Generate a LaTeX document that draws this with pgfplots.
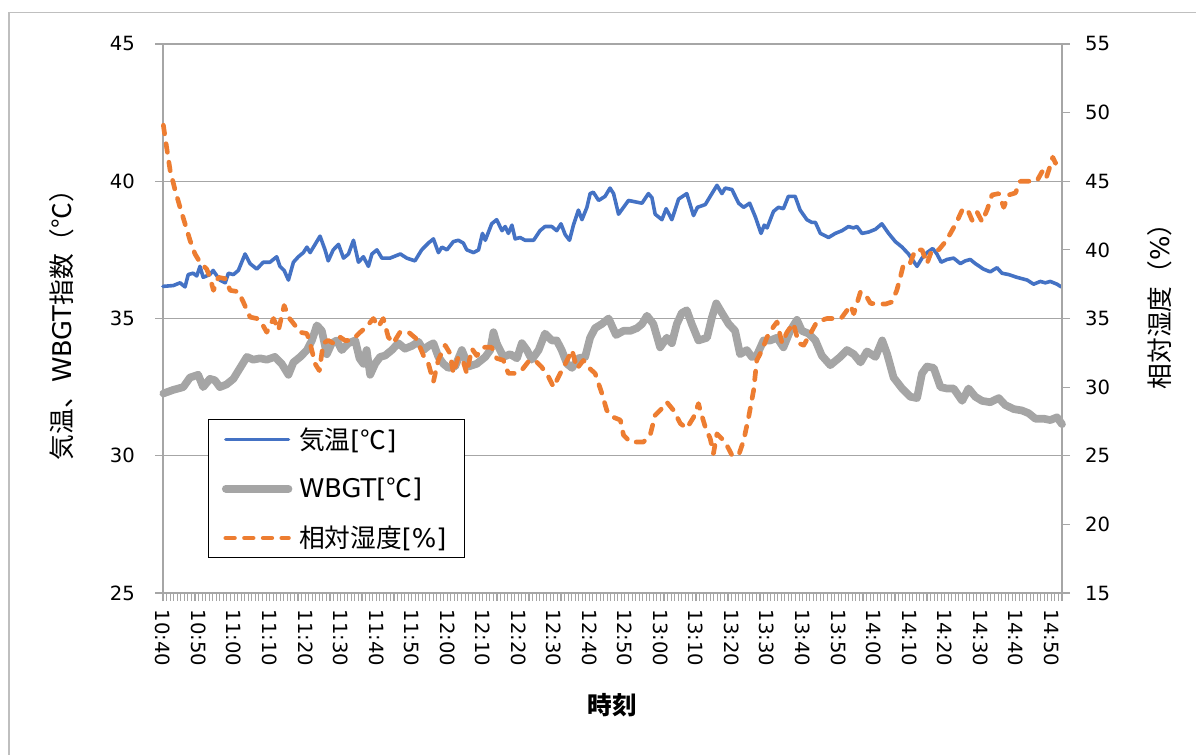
\documentclass[border=0pt]{standalone}
\usepackage{fontspec}
\setmainfont{DejaVu Sans}
\newfontfamily\cjk{Noto Sans CJK JP}
\usepackage{pgfplots}
\pgfplotsset{compat=1.18}
\definecolor{cblue}{RGB}{68,114,196}
\definecolor{cgray}{RGB}{165,165,165}
\definecolor{corange}{RGB}{237,125,49}
\definecolor{gridgray}{RGB}{166,166,166}
\definecolor{bordergray}{RGB}{191,191,191}
\tikzset{
  blueline/.style={color=cblue, line width=2.7bp, line join=round, line cap=round},
  grayline/.style={color=cgray, line width=5.8bp, line join=round, line cap=round},
  orangeline/.style={color=corange, line width=3.5bp, line join=round, line cap=round, dash pattern=on 6.5bp off 7.5bp},
}
\newcommand{\tickfont}{\fontsize{14.7bp}{17bp}\selectfont}
\newcommand{\labfont}{\fontsize{19.3bp}{22bp}\selectfont}
\newcommand{\xlabfont}{\fontsize{18.5bp}{21bp}\selectfont}
\newcommand{\legfont}{\fontsize{19.3bp}{22bp}\selectfont}
\pgfplotsset{
  common/.style={
    at={(122.25bp,121.5bp)}, anchor=south west,
    scale only axis, width=674.25bp, height=411.75bp,
    xmin=0, xmax=253, clip=false,
    axis line style={gridgray, line width=1bp, -},
    tick style={gridgray, line width=0.8bp},
    major tick length=6bp, minor tick length=6bp,
    tick align=outside,
    tick label style={font=\tickfont, black},
    /pgf/number format/assume math mode=true,
  }
}
\begin{document}
\begin{tikzpicture}
\useasboundingbox (0bp,0bp) rectangle (897bp,566.25bp);
\draw[bordergray, line width=0.8bp] (6.75bp,-5bp) -- (6.75bp,556.9bp) -- (905bp,556.9bp);
\begin{axis}[common,
  ymin=25, ymax=45,
  axis x line*=bottom, axis y line*=left,
  xtick={0,10,...,250},
  xticklabels={10:40,10:50,11:00,11:10,11:20,11:30,11:40,11:50,12:00,12:10,12:20,12:30,12:40,12:50,13:00,13:10,13:20,13:30,13:40,13:50,14:00,14:10,14:20,14:30,14:40,14:50},
  minor xtick={0,1,...,253},
  x tick label style={rotate=-90, anchor=west},
  xticklabel shift=3bp,
  ytick={25,30,...,45},
  yticklabel shift=11.6bp,
  ymajorgrids=true,
  grid style={gridgray, line width=1bp},
  xlabel={\cjk\bfseries 時刻},
  xlabel style={at={(axis description cs:0.5,-0.204)}, anchor=center, font=\xlabfont},
  ylabel={{\cjk 気温、}WBGT{\cjk 指数（℃）}},
  ylabel style={at={(axis description cs:-0.1123,0.5)}, anchor=center, font=\labfont},
]
\addplot[grayline] table {
0.1 32.27
2.9 32.4
5.7 32.5
7.6 32.85
9.9 32.95
11.3 32.5
13.2 32.8
14.6 32.75
16.0 32.5
17.9 32.6
19.8 32.8
21.7 33.2
23.6 33.6
25.4 33.5
27.3 33.55
29.2 33.5
31.5 33.6
33.4 33.35
35.3 32.95
36.7 33.4
38.6 33.6
40.5 33.85
41.9 34.2
43.3 34.75
44.7 34.55
46.1 33.7
47.5 34.1
48.9 34.2
50.3 33.85
52.2 34.1
54.1 34.2
55.3 33.55
56.4 33.35
57.3 33.85
58.3 32.95
59.7 33.35
61.1 33.6
62.5 33.65
64.4 33.85
66.2 34.1
68.1 33.9
70.0 34.0
71.9 34.15
73.3 33.85
74.7 34.0
76.1 34.1
77.5 33.6
78.9 33.35
80.3 33.2
82.2 33.25
84.1 33.85
86.0 33.25
88.3 33.35
90.7 33.6
92.1 33.85
93.0 34.5
93.9 34.1
95.8 33.6
97.7 33.7
99.6 33.55
101.0 34.1
102.4 33.85
103.8 33.5
105.7 33.85
107.5 34.45
109.4 34.2
110.8 34.2
112.2 33.85
113.7 33.35
115.1 33.2
116.9 33.55
118.8 33.6
120.2 34.3
121.6 34.65
123.5 34.8
125.4 35.0
127.5 34.4
129.6 34.55
131.5 34.55
133.4 34.65
134.8 34.8
136.2 35.1
138.0 34.8
139.9 33.95
141.8 34.3
143.2 34.1
144.6 34.8
146.0 35.2
147.4 35.3
148.8 34.8
150.7 34.2
153.1 34.3
154.5 35.05
155.7 35.55
157.3 35.2
159.2 34.8
161.0 34.55
162.4 33.7
164.3 33.85
165.7 33.6
167.1 33.65
169.0 34.2
170.9 34.2
172.8 34.3
174.6 33.95
176.5 34.55
178.4 34.95
179.8 34.55
181.7 34.45
183.6 34.2
185.4 33.65
187.8 33.3
189.2 33.45
190.6 33.6
192.5 33.85
194.4 33.7
196.3 33.4
198.1 33.8
200.5 33.6
202.4 34.2
203.8 33.7
205.6 32.85
208.0 32.45
210.3 32.15
212.2 32.1
213.6 33.0
215.0 33.25
216.9 33.2
218.8 32.5
220.6 32.45
222.5 32.45
224.9 32.0
226.7 32.45
228.6 32.15
230.5 32.0
232.8 31.95
235.2 32.1
237.0 31.85
239.4 31.7
241.7 31.65
243.6 31.55
245.5 31.35
247.8 31.35
249.7 31.3
251.6 31.4
253.0 31.15
};
\addplot[blueline] table {
0 36.17
2.9 36.2
4.8 36.3
6.2 36.15
7.1 36.6
8.5 36.65
9.5 36.55
10.4 36.9
11.3 36.5
13.2 36.6
14.1 36.75
16.0 36.4
17.5 36.3
18.4 36.65
19.8 36.6
21.2 36.75
23.1 37.35
24.5 37.0
26.4 36.8
28.2 37.05
30.1 37.05
32.0 37.25
32.9 36.9
34.1 36.75
35.3 36.4
36.7 37.05
38.1 37.25
39.5 37.4
40.5 37.6
41.4 37.4
42.8 37.7
44.2 38.0
45.6 37.5
46.5 37.1
47.9 37.5
49.4 37.7
50.8 37.2
52.2 37.35
53.6 37.85
55.0 37.05
56.4 37.25
57.8 36.9
58.8 37.35
60.2 37.5
61.6 37.2
63.9 37.2
66.8 37.35
68.6 37.2
70.9 37.1
72.8 37.5
74.7 37.75
76.1 37.9
77.5 37.4
78.5 37.6
79.9 37.5
81.7 37.8
83.1 37.85
84.5 37.75
85.5 37.5
87.4 37.4
88.8 37.5
89.9 38.1
90.7 37.85
92.5 38.45
93.9 38.6
95.4 38.2
96.3 38.35
97.2 38.1
98.2 38.4
99.1 37.9
100.5 37.95
101.9 37.85
104.3 37.85
106.1 38.2
107.5 38.35
109.4 38.35
110.8 38.2
112.0 38.45
113.2 38.05
114.4 37.85
115.5 38.4
116.9 38.95
117.9 38.6
119.3 39.05
120.2 39.55
121.1 39.6
122.6 39.3
124.4 39.45
125.8 39.75
126.8 39.55
128.2 38.8
129.6 39.05
131.0 39.3
132.9 39.25
134.8 39.2
136.6 39.55
137.6 39.4
138.5 38.8
140.4 38.6
141.6 39.0
143.2 38.6
145.1 39.35
147.4 39.55
149.3 38.75
150.4 39.05
152.6 39.15
154.0 39.45
155.9 39.85
157.3 39.55
158.2 39.75
160.1 39.7
162.0 39.2
163.4 39.05
165.1 39.2
166.7 38.7
168.3 38.1
169.2 38.4
170.0 38.3
171.8 38.9
173.2 39.05
174.6 39.0
176.0 39.45
177.9 39.45
179.3 38.95
181.2 38.6
182.6 38.5
183.6 38.5
185.0 38.1
187.3 37.95
189.2 38.1
191.1 38.2
192.9 38.35
194.3 38.3
195.3 38.35
196.7 38.1
198.6 38.15
200.5 38.25
202.3 38.45
204.2 38.1
206.1 37.8
208.0 37.6
209.8 37.35
212.2 36.9
213.6 37.2
215.0 37.4
216.6 37.55
217.8 37.35
219.0 37.05
220.6 37.15
222.5 37.2
224.4 37.0
225.8 37.1
227.2 37.15
228.6 37.0
230.9 36.8
232.8 36.7
234.7 36.85
236.1 36.65
238.0 36.6
240.3 36.5
243.2 36.4
245.0 36.25
246.9 36.35
248.3 36.3
249.7 36.35
251.6 36.25
252.8 36.15
};
\end{axis}
\begin{axis}[common,
  ymin=15, ymax=55,
  axis x line=none, axis y line*=right,
  ytick={15,20,...,55},
  yticklabel shift=7.85bp,
  ylabel={{\cjk 相対湿度（}\%{\cjk ）}},
  ylabel style={at={(axis description cs:1.109,0.534)}, anchor=center, font=\labfont},
  legend image code/.code={\draw[#1] (0bp,0bp) -- (47bp,0bp);},
  legend style={at={(0.05,0.317)}, anchor=north west, draw=black, line width=1bp,
    fill=white, inner xsep=10bp, inner ysep=4bp, row sep=16bp, font=\legfont,
    cells={anchor=west}},
]
\addlegendimage{blueline}
\addlegendentry{\makebox[115bp][l]{\hspace{3bp}{\cjk 気温}[{\cjk ℃}]}}
\addlegendimage{grayline}
\addlegendentry{\makebox[115bp][l]{\hspace{3bp}WBGT[{\cjk ℃}]}}
\addplot[orangeline] table {
0.1 49.08
1.0 47.5
2.0 45.8
3.4 44.35
4.8 43.1
6.2 41.9
7.6 40.7
9.0 39.7
10.4 39.1
12.3 38.6
13.2 38.0
14.2 37.05
15.6 38.0
17.5 37.9
18.9 37.05
21.2 36.95
22.6 36.2
24.5 35.1
26.4 35.0
27.8 34.65
29.2 34.0
31.1 35.0
32.5 34.15
34.1 35.95
35.3 35.1
36.7 34.65
38.6 34.0
40.5 33.9
41.4 33.2
42.8 31.7
44.0 31.2
45.1 33.2
46.5 33.4
47.9 33.2
49.8 33.65
51.2 33.4
52.6 33.4
54.1 33.65
55.5 34.0
57.3 34.4
59.2 35.0
60.6 34.4
62.0 35.0
63.4 33.65
64.8 33.2
66.7 34.0
69.1 34.0
71.4 33.5
73.3 32.3
74.7 31.7
76.1 30.4
77.5 32.0
79.4 33.05
80.8 32.45
81.7 31.0
83.1 32.2
84.5 31.85
85.5 31.0
86.9 32.8
88.3 32.3
90.2 32.9
92.5 32.9
93.9 32.1
95.8 31.95
97.2 31.0
99.1 31.0
101.0 31.25
102.8 31.85
104.7 31.95
106.6 31.45
108.5 30.75
109.9 30.0
111.3 30.75
113.7 31.95
115.1 32.7
116.5 31.35
118.3 31.95
119.7 31.45
121.6 31.0
123.5 29.55
124.9 28.3
126.8 27.8
128.7 27.6
129.6 26.5
131.5 26.0
135.2 26.0
137.1 26.5
138.5 27.95
140.8 28.55
141.8 28.9
143.7 28.3
145.6 27.35
147.4 27.0
149.3 27.8
150.7 28.8
151.2 28.3
152.6 27.1
154.0 26.25
154.9 25.15
155.9 26.6
158.2 26.0
160.1 25.05
162.0 25.05
163.4 26.1
164.8 27.8
166.2 29.75
167.1 31.95
168.6 32.7
170.0 33.65
171.8 34.4
172.8 34.75
174.2 33.2
175.6 34.0
177.4 34.65
178.9 33.2
180.3 33.05
182.2 33.9
184.0 34.75
186.9 35.0
190.6 35.0
191.1 35.1
193.5 35.95
194.4 35.35
196.3 36.95
198.1 36.55
199.1 36.1
203.3 36.05
205.1 36.2
206.5 37.05
207.5 38.0
208.4 38.95
210.3 39.05
211.7 40.0
213.6 40.0
215.0 39.0
216.4 40.0
218.3 40.0
220.2 40.6
221.6 41.2
223.4 42.05
224.9 42.9
226.3 43.0
227.7 42.15
229.1 42.75
230.5 42.05
231.9 42.9
233.3 44.0
235.2 44.1
236.6 43.1
238.0 44.0
239.9 44.15
241.3 45.0
244.6 45.0
246.0 45.05
247.4 45.7
248.5 45.2
249.7 46.15
250.4 46.75
251.2 46.3
251.4 46.55
};
\addlegendentry{\makebox[115bp][l]{\hspace{3bp}{\cjk 相対湿度}[\%]}}
\end{axis}
\end{tikzpicture}
\end{document}
